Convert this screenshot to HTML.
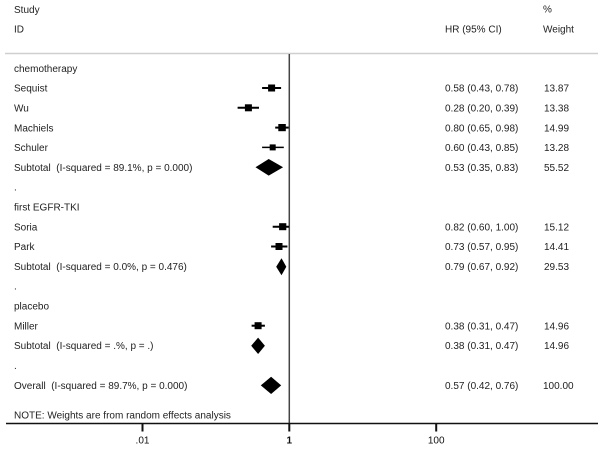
<!DOCTYPE html>
<html>
<head>
<meta charset="utf-8">
<style>
  html,body{margin:0;padding:0;background:#fff;}
  svg{display:block;}
  text{font-family:"Liberation Sans",Arial,sans-serif;font-size:10px;fill:#222;}
</style>
</head>
<body>
<svg width="602" height="449" viewBox="0 0 602 449" xmlns="http://www.w3.org/2000/svg">
  <rect width="602" height="449" fill="#fff"/>
  <!-- header -->
  <text x="14" y="13">Study</text>
  <text x="14" y="32.5">ID</text>
  <text x="445" y="32.5">HR (95% CI)</text>
  <text x="543" y="12.5">%</text>
  <text x="543" y="32.5">Weight</text>
  <line x1="5" y1="53.5" x2="598" y2="53.5" stroke="#cfcfcf" stroke-width="1.5"/>

  <!-- vertical null line -->
  <line x1="289.3" y1="54" x2="289.3" y2="423.5" stroke="#444" stroke-width="1.5"/>

  <!-- rows: center = 68.3 + 19.8*i, baseline = center + 3.7 -->
  <text x="14" y="72">chemotherapy</text>

  <text x="14" y="91.7">Sequist</text>
  <text x="445" y="91.7">0.58 (0.43, 0.78)</text>
  <text x="544" y="91.7">13.87</text>

  <text x="14" y="111.5">Wu</text>
  <text x="445" y="111.5">0.28 (0.20, 0.39)</text>
  <text x="544" y="111.5">13.38</text>

  <text x="14" y="131.3">Machiels</text>
  <text x="445" y="131.3">0.80 (0.65, 0.98)</text>
  <text x="544" y="131.3">14.99</text>

  <text x="14" y="151.1">Schuler</text>
  <text x="445" y="151.1">0.60 (0.43, 0.85)</text>
  <text x="544" y="151.1">13.28</text>

  <text x="14" y="170.9" xml:space="preserve">Subtotal  (I-squared = 89.1%, p = 0.000)</text>
  <text x="445" y="170.9">0.53 (0.35, 0.83)</text>
  <text x="544" y="170.9">55.52</text>

  <text x="14" y="190.7">.</text>

  <text x="14" y="210.5">first EGFR-TKI</text>

  <text x="14" y="230.3">Soria</text>
  <text x="445" y="230.3">0.82 (0.60, 1.00)</text>
  <text x="544" y="230.3">15.12</text>

  <text x="14" y="250.1">Park</text>
  <text x="445" y="250.1">0.73 (0.57, 0.95)</text>
  <text x="544" y="250.1">14.41</text>

  <text x="14" y="269.9" xml:space="preserve">Subtotal  (I-squared = 0.0%, p = 0.476)</text>
  <text x="445" y="269.9">0.79 (0.67, 0.92)</text>
  <text x="544" y="269.9">29.53</text>

  <text x="14" y="289.7">.</text>

  <text x="14" y="309.5">placebo</text>

  <text x="14" y="329.3">Miller</text>
  <text x="445" y="329.3">0.38 (0.31, 0.47)</text>
  <text x="544" y="329.3">14.96</text>

  <text x="14" y="349.1" xml:space="preserve">Subtotal  (I-squared = .%, p = .)</text>
  <text x="445" y="349.1">0.38 (0.31, 0.47)</text>
  <text x="544" y="349.1">14.96</text>

  <text x="14" y="368.9">.</text>

  <text x="14" y="389" xml:space="preserve">Overall  (I-squared = 89.7%, p = 0.000)</text>
  <text x="445" y="389">0.57 (0.42, 0.76)</text>
  <text x="543" y="389">100.00</text>

  <text x="14" y="418.3">NOTE: Weights are from random effects analysis</text>

  <!-- markers -->
  <g fill="#000" stroke="#000">
    <!-- Sequist -->
    <line x1="262.1" y1="88" x2="281.1" y2="88" stroke-width="2"/>
    <rect x="268.1" y="84.5" width="7" height="7" stroke="none"/>
    <!-- Wu -->
    <line x1="237.6" y1="107.8" x2="259" y2="107.8" stroke-width="2"/>
    <rect x="244.9" y="104.3" width="7" height="7" stroke="none"/>
    <!-- Machiels -->
    <line x1="275.2" y1="127.6" x2="288.6" y2="127.6" stroke-width="2"/>
    <rect x="278.3" y="124" width="7.5" height="7.2" stroke="none"/>
    <!-- Schuler -->
    <line x1="262.1" y1="147.4" x2="283.8" y2="147.4" stroke-width="1.5"/>
    <rect x="269.7" y="144.4" width="6" height="6" stroke="none"/>
    <!-- Subtotal chemo -->
    <polygon points="255.5,167.3 268.7,159 283.1,167.3 268.7,175.6" stroke="none"/>

    <!-- Soria -->
    <line x1="272.7" y1="226.7" x2="289" y2="226.7" stroke-width="2"/>
    <rect x="279.1" y="223.2" width="7.2" height="7" stroke="none"/>
    <!-- Park -->
    <line x1="271.1" y1="246.5" x2="287.4" y2="246.5" stroke-width="2"/>
    <rect x="275.5" y="243" width="7" height="7" stroke="none"/>
    <!-- Subtotal EGFR -->
    <polygon points="276.2,266.8 281.5,258.3 286.3,266.8 281.5,275.3" stroke="none"/>

    <!-- Miller -->
    <line x1="251.6" y1="325.7" x2="264.9" y2="325.7" stroke-width="2"/>
    <rect x="254.6" y="322.2" width="7" height="7" stroke="none"/>
    <!-- Subtotal placebo -->
    <polygon points="251.2,345.8 258.1,337.6 264.9,345.8 258.1,354" stroke="none"/>

    <!-- Overall -->
    <polygon points="260.8,385.4 271.1,376.8 281.2,385.4 271.1,394" stroke="none"/>
  </g>

  <!-- x axis -->
  <line x1="6" y1="423.5" x2="598" y2="423.5" stroke="#111" stroke-width="1.5"/>
  <line x1="142.5" y1="423.5" x2="142.5" y2="431.5" stroke="#111" stroke-width="2"/>
  <line x1="289.3" y1="423.5" x2="289.3" y2="431.5" stroke="#111" stroke-width="2"/>
  <line x1="436.2" y1="423.5" x2="436.2" y2="431.5" stroke="#111" stroke-width="2"/>
  <text x="142.5" y="443.5" text-anchor="middle" style="fill:#111">.01</text>
  <text x="289.3" y="443.5" text-anchor="middle" style="fill:#111;font-weight:bold">1</text>
  <text x="436.2" y="443.5" text-anchor="middle" style="fill:#111">100</text>
</svg>
</body>
</html>
